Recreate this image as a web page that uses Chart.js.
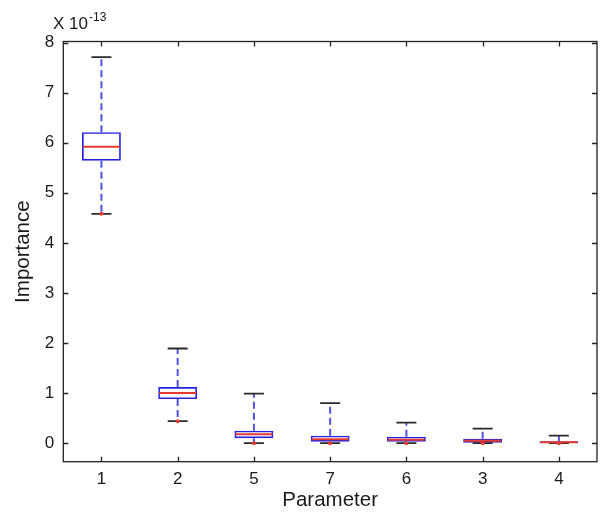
<!DOCTYPE html>
<html>
<head>
<meta charset="utf-8">
<title>Importance box plot</title>
<script src="https://cdn.jsdelivr.net/npm/chart.js@4/dist/chart.umd.min.js"></script>
<style>
  html, body { margin: 0; padding: 0; background: #fff; }
  #wrap { width: 604px; height: 516px; position: relative; }
</style>
</head>
<body>
<div id="wrap"><canvas id="boxChart"></canvas></div>
<script>
// ── Data (values in units of 1e-13) ─────────────────────────
const categories = ['1', '2', '5', '7', '6', '3', '4'];
const whiskerHigh = [7.71, 1.89, 0.99, 0.80, 0.41, 0.29, 0.15];
const quartile3   = [6.21, 1.12, 0.25, 0.15, 0.13, 0.09, 0.04];
const medians     = [5.92, 1.00, 0.18, 0.08, 0.07, 0.05, 0.02];
const quartile1   = [5.64, 0.88, 0.10, 0.03, 0.03, 0.01, 0.005];
const whiskerLow  = [4.58, 0.44, 0.00, 0.00, 0.00, 0.00, 0.00];
const yTicks = [0, 1, 2, 3, 4, 5, 6, 7, 8];

const FONT = "'Liberation Sans', Arial, Helvetica, sans-serif";
const BLUE = '#2424e0';
const RED = '#e63a30';

// whiskers, medians, caps and the matlab-style frame
const boxExtras = {
  id: 'boxExtras',
  afterDatasetsDraw(chart) {
    const ctx = chart.ctx;
    const x = chart.scales.x, y = chart.scales.y;
    const bars = chart.getDatasetMeta(0).data;
    ctx.save();
    categories.forEach((c, i) => {
      const cx = x.getPixelForValue(i);
      const half = bars[i].width / 2;
      const capHalf = 10;
      // dashed whiskers
      ctx.strokeStyle = '#5252e2';
      ctx.lineWidth = 2;
      ctx.setLineDash([7, 4]);
      ctx.beginPath();
      ctx.moveTo(cx, y.getPixelForValue(quartile3[i]));
      ctx.lineTo(cx, y.getPixelForValue(whiskerHigh[i]));
      ctx.moveTo(cx, y.getPixelForValue(quartile1[i]));
      ctx.lineTo(cx, y.getPixelForValue(whiskerLow[i]));
      ctx.stroke();
      ctx.setLineDash([]);
      // caps
      ctx.strokeStyle = '#2a2a2a';
      ctx.lineWidth = 1.8;
      ctx.beginPath();
      [whiskerHigh[i], whiskerLow[i]].forEach(v => {
        const py = y.getPixelForValue(v);
        ctx.moveTo(cx - capHalf, py);
        ctx.lineTo(cx + capHalf, py);
      });
      ctx.stroke();
      // median
      ctx.strokeStyle = RED;
      ctx.lineWidth = 2;
      ctx.beginPath();
      const my = y.getPixelForValue(medians[i]);
      ctx.moveTo(cx - half + 1, my);
      ctx.lineTo(cx + half - 1, my);
      ctx.stroke();
      // red marker at lower whisker end
      ctx.fillStyle = RED;
      ctx.beginPath();
      ctx.arc(cx, y.getPixelForValue(whiskerLow[i]), 2, 0, Math.PI * 2);
      ctx.fill();
    });
    ctx.restore();
  },
  afterDraw(chart) {
    const ctx = chart.ctx;
    const a = chart.chartArea;
    const x = chart.scales.x, y = chart.scales.y;
    const tl = 5;
    ctx.save();
    ctx.strokeStyle = '#222';
    ctx.lineWidth = 1.3;
    ctx.strokeRect(a.left, a.top, a.right - a.left, a.bottom - a.top);
    ctx.beginPath();
    yTicks.forEach(v => {
      const py = Math.round(y.getPixelForValue(v)) + 0.5;
      ctx.moveTo(a.left, py); ctx.lineTo(a.left + tl, py);
      ctx.moveTo(a.right, py); ctx.lineTo(a.right - tl, py);
    });
    categories.forEach((c, i) => {
      const px = Math.round(x.getPixelForValue(i)) + 0.5;
      ctx.moveTo(px, a.bottom); ctx.lineTo(px, a.bottom - tl);
      ctx.moveTo(px, a.top); ctx.lineTo(px, a.top + tl);
    });
    ctx.stroke();
    // exponent label
    ctx.fillStyle = '#1a1a1a';
    ctx.textBaseline = 'alphabetic';
    ctx.font = '17px ' + FONT;
    ctx.fillText('X 10', 53, 29);
    const w = ctx.measureText('X 10').width;
    ctx.font = '12px ' + FONT;
    ctx.fillText('-13', 53 + w + 1, 21);
    ctx.restore();
  }
};

new Chart(document.getElementById('boxChart'), {
  type: 'bar',
  data: {
    labels: categories,
    datasets: [{
      data: categories.map((c, i) => [quartile1[i], quartile3[i]]),
      backgroundColor: 'rgba(0,0,0,0)',
      borderColor: BLUE,
      borderWidth: 1.7,
      borderSkipped: false,
      barPercentage: 0.51,
      categoryPercentage: 1
    }]
  },
  options: {
    responsive: true,
    maintainAspectRatio: false,
    animation: false,
    layout: { padding: { top: 41.5, right: 7, bottom: 0, left: 0 } },
    plugins: { legend: { display: false }, tooltip: { enabled: false } },
    scales: {
      x: {
        offset: true,
        grid: { display: false, drawTicks: false },
        border: { display: false },
        ticks: { color: '#1a1a1a', font: { family: FONT, size: 17 }, padding: 7 },
        title: {
          display: true, text: 'Parameter', color: '#1a1a1a',
          font: { family: FONT, size: 20.5 }, padding: { top: 0, bottom: 3 }
        },
        afterFit(s) { s.height = 54.3; }
      },
      y: {
        min: -0.37, max: 8.02,
        grid: { display: false, drawTicks: false },
        border: { display: false },
        afterBuildTicks(s) { s.ticks = yTicks.map(v => ({ value: v })); },
        ticks: { color: '#1a1a1a', font: { family: FONT, size: 17 }, padding: 9 },
        title: {
          display: true, text: 'Importance', color: '#1a1a1a',
          font: { family: FONT, size: 20.5 }, padding: { top: 11, bottom: 0 }
        },
        afterFit(s) { s.width = 63.3; }
      }
    }
  },
  plugins: [boxExtras]
});
</script>
</body>
</html>
